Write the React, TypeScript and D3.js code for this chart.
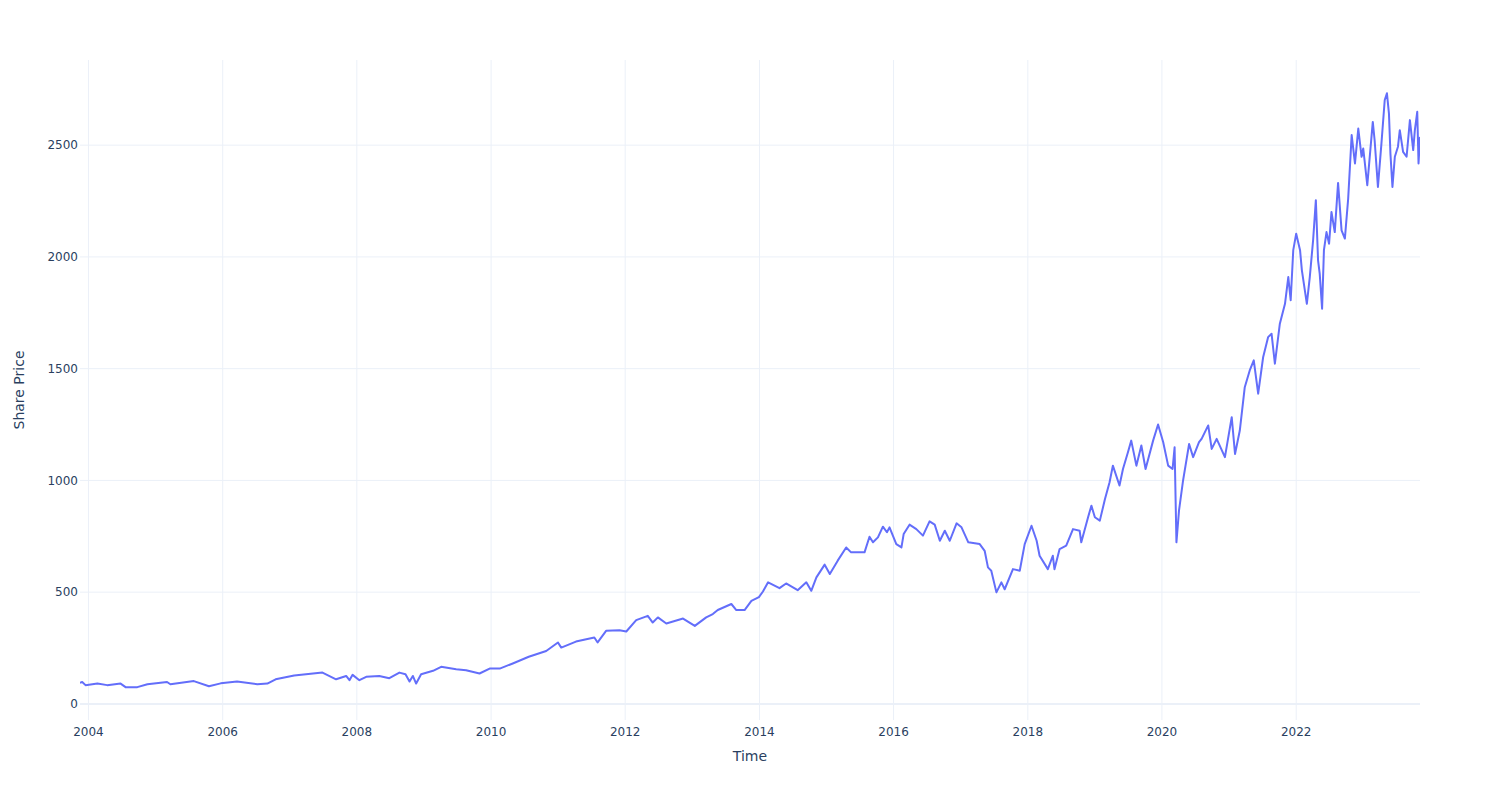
import * as d3 from 'd3'
import React, { useEffect } from 'react'

// daily closes, thinned to turning points
const dates: string[] = [
  '2003-11-16', '2003-11-28', '2003-12-16', '2004-02-19', '2004-04-12', '2004-06-24', '2004-07-21',
  '2004-09-23', '2004-11-17', '2005-03-04', '2005-03-22', '2005-07-28', '2005-10-18', '2005-12-21',
  '2006-03-20', '2006-07-08', '2006-09-01', '2006-10-16', '2007-01-25', '2007-06-28', '2007-09-10',
  '2007-11-04', '2007-11-22', '2007-12-09', '2008-01-15', '2008-02-21', '2008-05-02', '2008-06-26',
  '2008-08-20', '2008-09-22', '2008-10-14', '2008-11-01', '2008-11-19', '2008-12-16', '2009-02-19',
  '2009-04-04', '2009-06-25', '2009-08-18', '2009-10-30', '2009-12-24', '2010-02-17', '2010-04-29',
  '2010-07-25', '2010-10-28', '2010-12-31', '2011-01-18', '2011-04-08', '2011-07-17', '2011-08-04',
  '2011-09-19', '2011-12-01', '2012-01-07', '2012-03-01', '2012-05-03', '2012-05-30', '2012-06-27',
  '2012-08-12', '2012-11-11', '2013-01-14', '2013-03-17', '2013-04-22', '2013-05-19', '2013-08-01',
  '2013-08-28', '2013-10-12', '2013-11-18', '2013-12-29', '2014-01-20', '2014-02-17', '2014-04-20',
  '2014-05-26', '2014-07-28', '2014-09-13', '2014-10-10', '2014-11-07', '2014-12-22', '2015-01-19',
  '2015-03-03', '2015-04-18', '2015-05-15', '2015-07-27', '2015-08-23', '2015-09-11', '2015-10-08',
  '2015-11-04', '2015-11-26', '2015-12-10', '2016-01-16', '2016-02-13', '2016-02-25', '2016-03-28',
  '2016-05-04', '2016-06-09', '2016-07-15', '2016-08-12', '2016-09-09', '2016-10-06', '2016-11-02',
  '2016-12-09', '2017-01-05', '2017-02-11', '2017-04-14', '2017-05-11', '2017-05-29', '2017-06-16',
  '2017-07-14', '2017-08-10', '2017-08-28', '2017-10-12', '2017-11-18', '2017-12-15', '2018-01-21',
  '2018-02-18', '2018-03-06', '2018-04-20', '2018-05-17', '2018-05-26', '2018-06-23', '2018-07-29',
  '2018-09-04', '2018-10-10', '2018-10-19', '2018-11-25', '2018-12-13', '2019-01-01', '2019-01-28',
  '2019-02-25', '2019-03-22', '2019-04-09', '2019-05-15', '2019-06-03', '2019-06-30', '2019-07-18',
  '2019-08-15', '2019-09-11', '2019-10-04', '2019-11-14', '2019-12-11', '2020-01-08', '2020-02-04',
  '2020-02-28', '2020-03-10', '2020-03-20', '2020-04-03', '2020-04-25', '2020-05-28', '2020-06-19',
  '2020-07-21', '2020-08-04', '2020-09-09', '2020-09-28', '2020-10-25', '2020-12-09', '2021-01-15',
  '2021-02-02', '2021-02-28', '2021-03-27', '2021-04-23', '2021-05-15', '2021-06-08', '2021-07-05',
  '2021-08-01', '2021-08-20', '2021-09-07', '2021-10-04', '2021-11-01', '2021-11-19', '2021-12-02',
  '2021-12-16', '2022-01-01', '2022-01-22', '2022-02-01', '2022-02-28', '2022-03-16', '2022-04-03',
  '2022-04-18', '2022-04-30', '2022-05-09', '2022-05-22', '2022-06-01', '2022-06-15', '2022-06-29',
  '2022-07-12', '2022-07-30', '2022-08-17', '2022-09-05', '2022-09-23', '2022-10-11', '2022-10-30',
  '2022-11-17', '2022-12-05', '2022-12-23', '2023-01-01', '2023-01-23', '2023-02-22', '2023-03-04',
  '2023-03-22', '2023-04-10', '2023-04-28', '2023-05-10', '2023-05-21', '2023-05-29', '2023-06-09',
  '2023-06-22', '2023-07-09', '2023-07-19', '2023-08-06', '2023-08-25', '2023-09-12', '2023-09-30',
  '2023-10-09', '2023-10-22', '2023-10-29', '2023-11-06',
]

const prices: number[] = [
  95, 98, 84, 91, 84, 91, 75,
  75, 88, 98, 88, 102, 79, 92,
  100, 88, 91, 110, 127, 140, 110,
  125, 106, 130, 106, 121, 125, 115,
  140, 133, 100, 125, 91, 133, 148,
  166, 155, 151, 136, 158, 158, 181,
  211, 237, 275, 252, 279, 297, 275,
  327, 330, 324, 375, 394, 364, 387,
  360, 382, 349, 387, 402, 420, 447,
  420, 420, 461, 478, 503, 544, 518,
  539, 509, 544, 506, 566, 623, 581,
  641, 700, 678, 678, 748, 723, 745,
  793, 768, 790, 715, 700, 760, 802,
  782, 753, 817, 802, 730, 775, 730,
  808, 790, 723, 715, 685, 611, 596,
  499, 544, 513, 603, 596, 715, 797,
  730, 663, 603, 663, 603, 693, 708,
  782, 775, 723, 835, 887, 835, 820,
  917, 992, 1066, 977, 1051, 1126, 1178,
  1066, 1156, 1051, 1178, 1250, 1171, 1066,
  1051, 1148, 723, 865, 999, 1163, 1104,
  1171, 1186, 1246, 1141, 1186, 1104, 1283,
  1118, 1223, 1417, 1492, 1537, 1388, 1551,
  1641, 1656, 1522, 1701, 1790, 1910, 1806,
  2030, 2104, 2030, 1940, 1790, 1910, 2074,
  2254, 1985, 1925, 1768, 2030, 2111, 2059,
  2201, 2111, 2331, 2119, 2082, 2261, 2545,
  2418, 2574, 2448, 2485, 2321, 2604, 2522,
  2313, 2507, 2702, 2732, 2641, 2462, 2313,
  2448, 2493, 2567, 2470, 2448, 2612, 2478,
  2567, 2649, 2418, 2537,
]

const yTicks = [0, 500, 1000, 1500, 2000, 2500]
const xTickYears = [2004, 2006, 2008, 2010, 2012, 2014, 2016, 2018, 2020, 2022]
const yRange: [number, number] = [-72, 2881]

const W = 1500
const H = 800
const margin = { top: 60, right: 80, bottom: 80, left: 80 }
const font = '"DejaVu Sans", Verdana, sans-serif'
const textColor = '#2a3f5f'
const gridColor = '#ebf0f8'

export default function App() {
  useEffect(() => {
    document.body.style.margin = '0'
  }, [])

  const parse = d3.timeParse('%Y-%m-%d')
  const points: [Date, number][] = dates.map((d, i) => [parse(d) as Date, prices[i]])

  const x = d3
    .scaleTime()
    .domain(d3.extent(points, p => p[0]) as [Date, Date])
    .range([margin.left, W - margin.right])
  const y = d3.scaleLinear().domain(yRange).range([H - margin.bottom, margin.top])

  const line = d3
    .line<[Date, number]>()
    .x(p => x(p[0]))
    .y(p => y(p[1]))

  const top = margin.top
  const bottom = H - margin.bottom
  const left = margin.left
  const right = W - margin.right

  return (
    <svg width={W} height={H} style={{ display: 'block', background: '#fff', fontFamily: font }}>
      <defs>
        <clipPath id="plot">
          <rect x={left} y={top} width={right - left} height={bottom - top} />
        </clipPath>
      </defs>

      {/* gridlines */}
      {xTickYears.map(yr => {
        const px = x(new Date(yr, 0, 1))
        return <line key={yr} x1={px} x2={px} y1={top} y2={bottom} stroke={gridColor} strokeWidth={1} />
      })}
      {yTicks.map(v => (
        <line
          key={v}
          x1={left}
          x2={right}
          y1={y(v)}
          y2={y(v)}
          stroke={gridColor}
          strokeWidth={v === 0 ? 2 : 1}
        />
      ))}

      <path
        d={line(points) ?? ''}
        fill="none"
        stroke="#636efa"
        strokeWidth={2}
        strokeLinejoin="round"
        clipPath="url(#plot)"
      />

      {/* tick labels */}
      {yTicks.map(v => (
        <text
          key={v}
          x={left - 2}
          y={y(v)}
          dy="0.35em"
          textAnchor="end"
          fontSize={12}
          fill={textColor}
        >
          {v}
        </text>
      ))}
      {xTickYears.map(yr => (
        <text
          key={yr}
          x={x(new Date(yr, 0, 1))}
          y={bottom + 12}
          dy="0.35em"
          textAnchor="middle"
          fontSize={12}
          fill={textColor}
        >
          {yr}
        </text>
      ))}

      {/* axis titles */}
      <text x={(left + right) / 2} y={761} textAnchor="middle" fontSize={14} fill={textColor}>
        Time
      </text>
      <text
        transform={`translate(24, ${(top + bottom) / 2}) rotate(-90)`}
        textAnchor="middle"
        fontSize={14}
        fill={textColor}
      >
        Share Price
      </text>
    </svg>
  )
}
